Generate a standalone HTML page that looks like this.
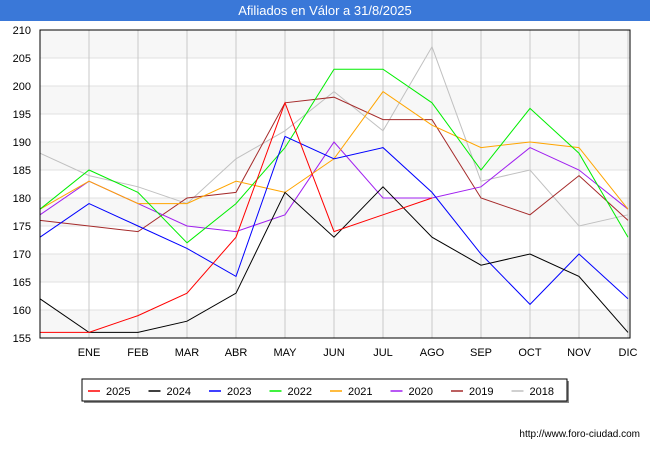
<!DOCTYPE html>
<html><head><meta charset="utf-8"><style>
body{margin:0;width:650px;height:450px;background:#fff;font-family:"Liberation Sans",sans-serif;overflow:hidden}
</style></head><body>
<svg id="c" width="650" height="450" xmlns="http://www.w3.org/2000/svg">
<rect x="0" y="0" width="650" height="21" fill="#3a78d8"/>
<text x="325" y="15" text-anchor="middle" font-size="13" fill="#fff">Afiliados en Válor a 31/8/2025</text>
<g id="grid"></g><g id="series"></g>
<rect x="40" y="30" width="590" height="308" fill="none" stroke="#000" stroke-width="1"/>
<rect x="84" y="381" width="485" height="22" fill="#888"/>
<rect x="82" y="379" width="485" height="22" fill="#fff" stroke="#000" stroke-width="1"/>
<g id="legend"></g>
<text x="640" y="437" text-anchor="end" font-size="10" fill="#000">http://www.foro-ciudad.com</text>
</svg>
<script>
const months=["","ENE","FEB","MAR","ABR","MAY","JUN","JUL","AGO","SEP","OCT","NOV","DIC"];
const yTicks=[155,160,165,170,175,180,185,190,195,200,205,210];
const seriesNames=["2025","2024","2023","2022","2021","2020","2019","2018"];
const seriesColors=["#ff0000","#000000","#0000ff","#00ee00","#ffa500","#a020f0","#a52a2a","#c0c0c0"];
const s2025=[156,156,159,163,173,197,174,177,180];
const s2024=[162,156,156,158,163,181,173,182,173,168,170,166,156];
const s2023=[173,179,175,171,166,191,187,189,181,170,161,170,162];
const s2022=[178,185,181,172,179,189,203,203,197,185,196,188,173];
const s2021=[178,183,179,179,183,181,187,199,193,189,190,189,178];
const s2020=[177,183,179,175,174,177,190,180,180,182,189,185,178];
const s2019=[176,175,174,180,181,197,198,194,194,180,177,184,176];
const s2018=[188,184,182,179,187,192,199,192,207,183,185,175,177];
const allSeries=[s2025,s2024,s2023,s2022,s2021,s2020,s2019,s2018];
const NS="http://www.w3.org/2000/svg";
const X=i=>40+i*49;
const Y=v=>338-(v-155)*(308/55);
const grid=document.getElementById('grid');
function mk(t,a,p){const e=document.createElementNS(NS,t);for(const k in a)e.setAttribute(k,a[k]);p.appendChild(e);return e;}
for(let i=0;i<yTicks.length-1;i++){
 if(i%2==0){const r=mk('rect',{x:40,y:Y(yTicks[i+1]),width:590,height:Y(yTicks[i])-Y(yTicks[i+1]),fill:'#f7f7f7'},grid);
 
 }
}
yTicks.forEach(v=>{
 const l=mk('line',{x1:40,x2:630,y1:Y(v),y2:Y(v),stroke:'#e0e0e0'},grid);
 
 
 const t=mk('text',{x:31,y:Y(v)+4,'text-anchor':'end','font-size':11,fill:'#000'},grid);
 t.textContent=v;
 
 
});
months.forEach((m,i)=>{
 if(i==0)return;
 const l=mk('line',{x1:X(i),x2:X(i),y1:30,y2:338,stroke:'#c8c8c8'},grid);
 
 
 const t=mk('text',{x:X(i),y:356,'text-anchor':'middle','font-size':11,fill:'#000'},grid);
 t.textContent=m;
 
 
});
const sg=document.getElementById('series');
for(let k=allSeries.length-1;k>=0;k--){
 const pts=allSeries[k].map((v,i)=>X(i)+','+Y(v)).join(' ');
 const p=mk('polyline',{points:pts,fill:'none',stroke:seriesColors[k],'stroke-width':1},sg);
 
 
}
const lg=document.getElementById('legend');
seriesNames.forEach((n,k)=>{
 const x0=88+k*60.5;
 const l=mk('line',{x1:x0,x2:x0+12,y1:391,y2:391,stroke:seriesColors[k],'stroke-width':1.5},lg);
 
 
 const t=mk('text',{x:x0+18,y:395,'font-size':11,fill:'#000'},lg);
 t.textContent=n;
 
 
});
</script>
</body></html>
